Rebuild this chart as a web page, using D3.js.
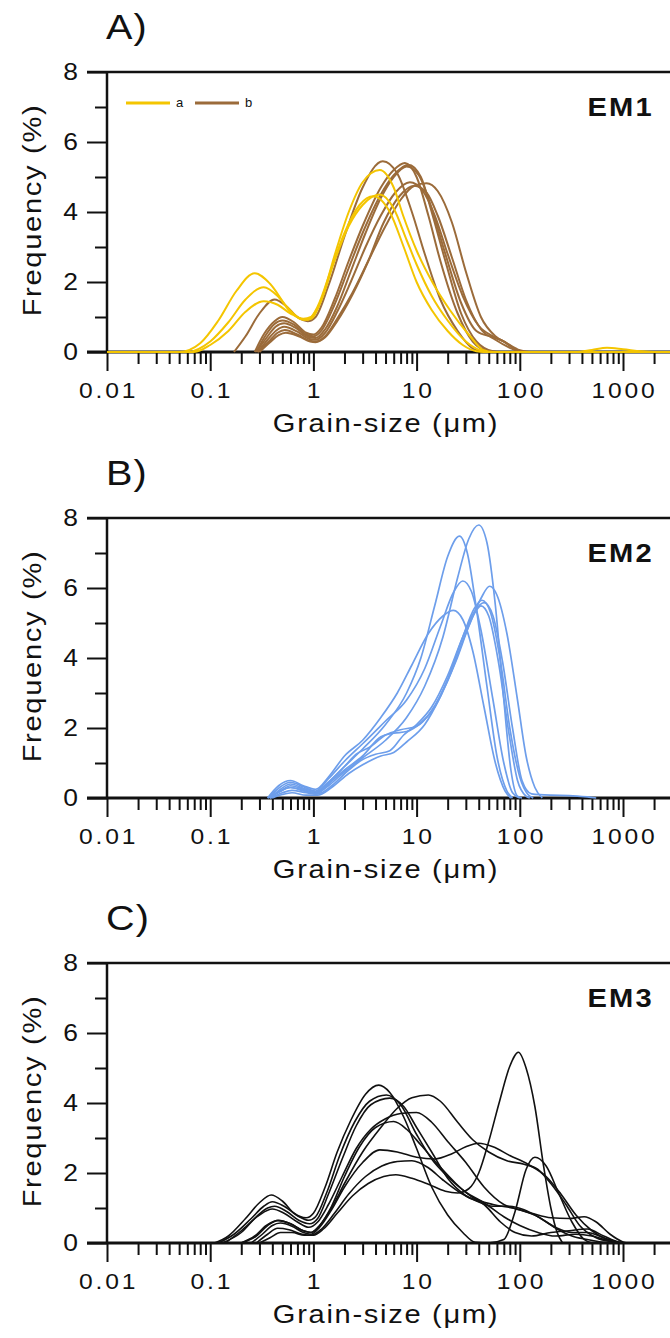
<!DOCTYPE html>
<html><head><meta charset="utf-8">
<script src="https://cdn.jsdelivr.net/npm/d3@7"></script>
<style>
body{margin:0;background:#fff}
svg{display:block}
text{font-family:"Liberation Sans",Arial,sans-serif;fill:#111}
</style>
</head><body>
<svg id="chart" width="670" height="1338"></svg>
<script>
// ---------- tick values / labels ----------
const xMajor = [0.01, 0.1, 1, 10, 100, 1000];
const xTickLabels = ["0.01", "0.1", "1", "10", "100", "1000"];
const yMajor = [0, 2, 4, 6, 8];
const yMinor = [1, 3, 5, 7];
const panelLetters = ["A)", "B)", "C)"];
const emLabels = ["EM1", "EM2", "EM3"];
const legendLabels = ["a", "b"];

// ---------- EM1 : group a (yellow) ----------
const em1a1 = [[0.01,0],[0.05,0],[0.08,0.25],[0.12,0.9],[0.18,1.75],[0.27,2.25],[0.38,1.95],[0.55,1.3],[0.75,0.95],[0.88,0.92],[1.1,1.3],[1.5,2.4],[2,3.4],[2.8,4.2],[3.8,4.45],[5.5,4.0],[7.5,3.0],[10,2.0],[14,1.2],[20,0.6],[28,0.2],[38,0.02],[45,0],[3000,0]];
const em1a2 = [[0.01,0],[0.06,0],[0.1,0.3],[0.15,0.85],[0.22,1.5],[0.33,1.85],[0.45,1.6],[0.6,1.15],[0.8,0.92],[0.95,0.95],[1.2,1.5],[1.6,2.75],[2.2,4.0],[3,4.85],[4.4,5.2],[6,4.7],[7.4,3.9],[10,2.9],[14.5,1.95],[21,1.2],[33,0.45],[44,0.06],[55,0],[350,0],[500,0.06],[700,0.12],[1000,0.08],[1500,0.02],[2000,0],[3000,0]];
const em1a3 = [[0.01,0],[0.07,0],[0.1,0.2],[0.15,0.6],[0.22,1.15],[0.33,1.45],[0.45,1.35],[0.6,1.1],[0.8,0.95],[0.95,1.0],[1.2,1.5],[1.6,2.6],[2.2,3.6],[3,4.2],[4.4,4.5],[6,4.1],[8,3.2],[10,2.5],[14,1.6],[20,0.9],[30,0.3],[42,0.04],[50,0],[3000,0]];
// ---------- EM1 : group b (brown) ----------
const em1b1 = [[0.17,0],[0.22,0.45],[0.3,1.1],[0.42,1.5],[0.55,1.3],[0.7,1.0],[0.88,0.88],[1.05,1.0],[1.4,1.9],[2,3.3],[3,4.7],[4.7,5.45],[6.5,5.1],[9,4.0],[12,2.8],[17,1.5],[25,0.6],[35,0.1],[45,0]];
const em1b2 = [[0.27,0],[0.33,0.5],[0.42,0.88],[0.5,1.0],[0.65,0.85],[0.85,0.55],[1.0,0.5],[1.2,0.7],[1.6,1.5],[2.2,2.6],[3,3.6],[4.5,4.7],[6,5.2],[7.7,5.4],[10,5.0],[13,3.9],[17,2.6],[25,1.1],[35,0.3],[50,0.02],[60,0]];
const em1b3 = [[0.28,0],[0.34,0.45],[0.42,0.8],[0.5,0.9],[0.65,0.78],[0.85,0.5],[1.0,0.45],[1.2,0.62],[1.6,1.35],[2.2,2.4],[3,3.4],[4.5,4.5],[6,5.05],[8.3,5.35],[11,5.0],[14,4.0],[19,2.6],[27,1.1],[38,0.3],[55,0.02],[65,0]];
const em1b4 = [[0.28,0],[0.35,0.4],[0.43,0.72],[0.52,0.82],[0.68,0.68],[0.9,0.43],[1.05,0.4],[1.3,0.65],[1.7,1.3],[2.3,2.3],[3.2,3.4],[4.5,4.4],[6,5.0],[8,5.3],[10.5,5.05],[14,4.1],[19,2.8],[27,1.4],[38,0.6],[55,0.42],[70,0.3],[90,0.08],[105,0]];
const em1b5 = [[0.29,0],[0.36,0.35],[0.44,0.62],[0.52,0.72],[0.7,0.58],[0.9,0.38],[1.05,0.35],[1.3,0.55],[1.7,1.15],[2.3,2.0],[3.2,3.0],[4.5,3.9],[6.2,4.55],[8.6,4.85],[11.5,4.6],[15,3.9],[20,2.8],[28,1.6],[40,0.75],[55,0.45],[70,0.3],[95,0.05],[115,0]];
const em1b6 = [[0.29,0],[0.37,0.3],[0.45,0.55],[0.53,0.63],[0.7,0.5],[0.92,0.32],[1.05,0.3],[1.3,0.45],[1.7,0.95],[2.4,1.7],[3.4,2.6],[5,3.6],[7,4.35],[9.5,4.75],[12.5,4.82],[16,4.6],[22,3.7],[30,2.3],[42,1.0],[58,0.45],[75,0.25],[100,0.05],[125,0]];
const em1b7 = [[0.3,0],[0.38,0.28],[0.46,0.48],[0.54,0.55],[0.72,0.45],[0.93,0.3],[1.05,0.28],[1.3,0.42],[1.7,0.88],[2.4,1.65],[3.4,2.6],[4.8,3.7],[6.8,4.45],[9.5,4.75],[12.5,4.55],[16,3.9],[22,2.7],[30,1.5],[42,0.65],[58,0.35],[80,0.12],[100,0]];

// ---------- EM2 (blue) ----------
const em2c1 = [[0.36,0],[0.45,0.15],[0.6,0.3],[0.8,0.22],[1.05,0.12],[1.4,0.35],[2,0.75],[3,1.15],[5,1.65],[8,2.3],[12,3.2],[18,4.6],[25,6.3],[32,7.4],[40,7.8],[48,7.3],[58,5.5],[70,2.8],[82,0.8],[95,0.05],[105,0]];
const em2c2 = [[0.38,0],[0.48,0.2],[0.6,0.35],[0.8,0.25],[1.05,0.15],[1.4,0.45],[2,0.9],[3,1.4],[5,2.1],[8,3.0],[11,4.0],[15,5.5],[20,6.9],[26,7.48],[31,7.0],[38,5.4],[48,3.2],[60,1.2],[75,0.2],[85,0]];
const em2c3 = [[0.37,0],[0.47,0.3],[0.6,0.45],[0.8,0.32],[1.05,0.2],[1.4,0.55],[2,1.05],[3,1.55],[5,2.2],[8,2.8],[12,3.7],[17,4.9],[23,5.9],[28,6.2],[34,5.9],[42,4.8],[55,2.8],[70,1.0],[85,0.15],[100,0]];
const em2c4 = [[0.4,0],[0.5,0.1],[0.62,0.15],[0.85,0.08],[1.1,0.08],[1.5,0.3],[2.2,0.7],[3,0.95],[4.5,1.2],[6,1.3],[8,1.6],[12,2.1],[17,2.9],[24,3.9],[32,4.9],[42,5.7],[51,6.05],[60,5.8],[75,4.7],[95,2.8],[115,1.2],[140,0.3],[165,0]];
const em2c5 = [[0.38,0],[0.48,0.25],[0.6,0.4],[0.8,0.28],[1.05,0.18],[1.4,0.45],[2,0.9],[2.6,1.25],[3.5,1.45],[5,1.8],[7,1.95],[10,2.05],[14,2.5],[20,3.4],[28,4.6],[36,5.4],[43,5.65],[52,5.3],[65,3.9],[80,2.0],[100,0.6],[120,0.1],[135,0]];
const em2c6 = [[0.39,0],[0.5,0.15],[0.62,0.22],[0.85,0.15],[1.1,0.12],[1.5,0.35],[2.2,0.8],[3,1.1],[4,1.25],[5.5,1.35],[7.5,1.8],[10,2.1],[14,2.6],[20,3.5],[28,4.6],[36,5.3],[45,5.58],[55,5.2],[68,3.9],[85,2.0],[105,0.5],[130,0.12],[200,0.08],[300,0.07],[450,0.03],[550,0]];
const em2c7 = [[0.38,0],[0.48,0.2],[0.6,0.3],[0.8,0.2],[1.05,0.12],[1.4,0.4],[2,0.8],[3,1.2],[4.5,1.75],[6,1.85],[8,1.9],[11,2.15],[15,2.6],[21,3.5],[29,4.6],[36,5.25],[42,5.49],[50,5.2],[62,3.9],[78,1.9],[95,0.5],[115,0.05],[125,0]];
const em2c8 = [[0.36,0],[0.46,0.35],[0.6,0.5],[0.8,0.35],[1.05,0.25],[1.4,0.6],[2,1.2],[3,1.65],[4.5,2.3],[6.5,3.0],[9,3.8],[13,4.7],[18,5.2],[22.7,5.36],[28,5.1],[35,4.2],[45,2.6],[58,1.0],[72,0.2],[82,0]];

// ---------- EM3 (black) ----------
const em3k1 = [[0.11,0],[0.15,0.2],[0.22,0.7],[0.3,1.15],[0.39,1.37],[0.5,1.2],[0.65,0.85],[0.85,0.72],[1.0,0.85],[1.3,1.6],[1.7,2.6],[2.3,3.5],[3.2,4.25],[4.3,4.51],[5.5,4.3],[7.5,3.6],[10,2.7],[14,1.6],[20,0.8],[28,0.3],[37,0.02],[50,0.0],[70,0.1],[90,0.9],[115,2.1],[140,2.45],[180,2.2],[240,1.4],[320,0.6],[420,0.1],[500,0]];
const em3k2 = [[0.12,0],[0.17,0.25],[0.25,0.7],[0.33,1.05],[0.4,1.18],[0.52,1.05],[0.7,0.78],[0.9,0.65],[1.05,0.75],[1.35,1.45],[1.8,2.5],[2.5,3.45],[3.5,4.05],[5.1,4.23],[7,3.95],[10,3.1],[14,2.4],[20,1.9],[30,1.45],[45,1.15],[70,0.75],[100,0.5],[150,0.3],[220,0.2],[350,0.25],[500,0.2],[700,0.08],[950,0]];
const em3k3 = [[0.13,0],[0.2,0.3],[0.28,0.75],[0.36,1.0],[0.42,1.05],[0.55,0.9],[0.72,0.65],[0.92,0.55],[1.1,0.7],[1.4,1.4],[1.9,2.4],[2.6,3.35],[3.6,3.95],[5.5,4.14],[7.5,3.9],[10,3.3],[14,2.6],[20,1.85],[30,1.35],[45,1.1],[65,0.6],[90,0.3],[130,0.2],[200,0.3],[300,0.35],[450,0.4],[650,0.2],[900,0.03],[1050,0]];
const em3k4 = [[0.2,0],[0.28,0.2],[0.36,0.5],[0.46,0.65],[0.6,0.55],[0.8,0.35],[0.95,0.3],[1.15,0.5],[1.5,1.0],[2,1.7],[3,2.6],[4.5,3.3],[6.5,3.85],[9,4.15],[13,4.23],[17,4.05],[25,3.45],[35,2.95],[50,2.6],[75,2.35],[110,2.25],[150,2.1],[200,1.7],[280,1.1],[380,0.5],[550,0.15],[800,0.03],[1000,0]];
const em3k5 = [[0.14,0],[0.2,0.35],[0.3,0.8],[0.4,0.97],[0.52,0.85],[0.7,0.6],[0.9,0.45],[1.1,0.6],[1.4,1.1],[1.9,1.9],[2.6,2.7],[3.6,3.25],[5,3.55],[7,3.7],[10,3.73],[14,3.45],[20,2.9],[30,2.3],[45,1.6],[70,1.1],[100,0.95],[150,0.75],[220,0.45],[320,0.3],[450,0.3],[650,0.15],[900,0.02],[1000,0]];
const em3k6 = [[0.2,0],[0.27,0.2],[0.35,0.5],[0.45,0.64],[0.6,0.55],[0.8,0.35],[0.95,0.3],[1.15,0.5],[1.5,1.05],[2,1.9],[2.8,2.75],[4,3.3],[6,3.47],[8,3.25],[11,2.8],[16,2.25],[24,1.7],[35,1.3],[55,1.1],[85,1.0],[130,0.85],[200,0.72],[300,0.7],[420,0.75],[550,0.6],[750,0.25],[1000,0.03],[1100,0]];
const em3k7 = [[0.25,0],[0.32,0.25],[0.4,0.5],[0.48,0.57],[0.62,0.48],[0.8,0.3],[0.95,0.25],[1.15,0.45],[1.5,0.95],[2,1.6],[3,2.3],[4.4,2.66],[6.5,2.6],[10,2.45],[15,2.4],[22,2.55],[30,2.75],[40,2.85],[55,2.75],[80,2.5],[120,2.25],[180,1.9],[250,1.4],[350,0.8],[500,0.35],[700,0.1],[950,0]];
const em3k8 = [[0.28,0],[0.36,0.25],[0.45,0.42],[0.58,0.38],[0.78,0.25],[0.95,0.22],[1.2,0.4],[1.6,0.85],[2.2,1.4],[3.2,1.9],[4.6,2.2],[6.5,2.33],[9,2.35],[13,2.15],[18,1.8],[26,1.45],[38,1.2],[55,1.05],[80,1.05],[110,0.95],[160,0.7],[230,0.4],[320,0.2],[450,0.1],[650,0.02],[800,0]];
const em3k9 = [[0.3,0],[0.38,0.15],[0.48,0.3],[0.62,0.3],[0.82,0.22],[1.0,0.22],[1.25,0.4],[1.7,0.85],[2.4,1.35],[3.4,1.7],[4.8,1.9],[6.3,1.95],[9,1.85],[13,1.68],[19,1.48],[25,1.43],[32,1.55],[40,2.0],[50,2.9],[63,4.0],[80,5.05],[97,5.45],[115,5.0],[140,3.9],[170,2.2],[200,1.0],[230,0.3],[260,0]];

const em1Brown = [em1b1, em1b2, em1b3, em1b4, em1b5, em1b6, em1b7];
const em1Yellow = [em1a1, em1a2, em1a3];
const em2Blue = [em2c1, em2c2, em2c3, em2c4, em2c5, em2c6, em2c7, em2c8];
const em3Black = [em3k1, em3k2, em3k3, em3k4, em3k5, em3k6, em3k7, em3k8, em3k9];

const COL_A = "#f4c500", COL_B = "#9b6b3a", COL_BLUE = "#6d9eeb", COL_K = "#111";

// ---------- drawing ----------
const svg = d3.select("#chart");
const X0 = 107, DEC = 103.2, XR = 670;
const SX = 1.12; // horizontal text stretch seen in the original
const x = d3.scaleLog().domain([0.01, 10000]).range([X0, X0 + 6 * DEC]);
const xMinor = [];
for (let e = -2; e <= 3; e++) for (let m = 2; m <= 9; m++) {
  const v = m * Math.pow(10, e);
  if (x(v) <= XR - 4) xMinor.push(v);
}

function panel(top, idx, groups, legend) {
  const zero = top + 280;
  const y = d3.scaleLinear().domain([0, 8]).range([zero, top]);
  const g = svg.append("g");

  g.append("text").attr("transform", `translate(${X0 - 1},${top - 33}) scale(1.1,1)`)
    .attr("font-size", 36).attr("letter-spacing", 1).text(panelLetters[idx]);

  // minor x ticks
  const xm = g.append("g").attr("transform", `translate(0,${zero})`)
    .call(d3.axisBottom(x).tickValues(xMinor).tickSize(12).tickFormat(""));
  xm.select(".domain").remove();
  xm.selectAll(".tick line").attr("stroke", "#111").attr("stroke-width", 2);
  // major x ticks
  const xg = g.append("g").attr("transform", `translate(0,${zero})`)
    .call(d3.axisBottom(x).tickValues(xMajor).tickSize(19).tickFormat((d, i) => xTickLabels[i]));
  xg.attr("font-size", null).attr("font-family", null);
  xg.select(".domain").remove();
  xg.selectAll(".tick line").attr("stroke", "#111").attr("stroke-width", 2);
  xg.selectAll(".tick text").attr("y", 46).attr("dy", null).attr("dx", 1)
    .attr("transform", `scale(${SX},1)`)
    .attr("font-size", 22).attr("letter-spacing", 2.5).attr("fill", "#111");

  // y ticks
  const ym = g.append("g").attr("transform", `translate(${X0},0)`)
    .call(d3.axisLeft(y).tickValues(yMinor).tickSize(12).tickFormat(""));
  ym.select(".domain").remove();
  ym.selectAll(".tick line").attr("stroke", "#111").attr("stroke-width", 2);
  const yg = g.append("g").attr("transform", `translate(${X0},0)`)
    .call(d3.axisLeft(y).tickValues(yMajor).tickSize(20).tickPadding(9).tickFormat(d3.format("d")));
  yg.attr("font-size", null).attr("font-family", null);
  yg.select(".domain").remove();
  yg.selectAll(".tick line").attr("stroke", "#111").attr("stroke-width", 2);
  yg.selectAll(".tick text").attr("font-size", 23).attr("fill", "#111")
    .attr("x", -29 / 1.15).attr("transform", "scale(1.15,1)");

  // frame lines
  g.append("line").attr("x1", X0 - 20).attr("x2", XR).attr("y1", top).attr("y2", top)
    .attr("stroke", "#111").attr("stroke-width", 2.5);
  g.append("line").attr("x1", X0).attr("x2", X0).attr("y1", top).attr("y2", zero)
    .attr("stroke", "#111").attr("stroke-width", 2.5);
  g.append("line").attr("x1", X0 - 20).attr("x2", XR).attr("y1", zero).attr("y2", zero)
    .attr("stroke", "#111").attr("stroke-width", 3);

  // axis titles
  g.append("text").attr("transform", `translate(41,${top + 138}) rotate(-90) scale(${SX},1)`)
    .attr("text-anchor", "middle").attr("font-size", 26).attr("letter-spacing", 1.5)
    .text("Frequency (%)");
  g.append("text").attr("transform", `translate(386,${zero + 80}) scale(${SX},1)`)
    .attr("text-anchor", "middle").attr("font-size", 26).attr("letter-spacing", 1.5)
    .text("Grain-size (μm)");

  g.append("text").attr("transform", `translate(654,${top + 44}) scale(${SX},1)`)
    .attr("text-anchor", "end")
    .attr("font-size", 26).attr("font-weight", "bold").attr("letter-spacing", 2)
    .text(emLabels[idx]);

  // curves
  const line = d3.line().x(d => x(d[0])).y(d => y(d[1])).curve(d3.curveMonotoneX);
  groups.forEach(gr => {
    g.append("g").selectAll("path").data(gr.series).join("path")
      .attr("d", line).attr("fill", "none").attr("stroke", gr.color)
      .attr("stroke-width", gr.width).attr("stroke-linejoin", "round");
  });

  if (legend) {
    const ly = top + 31;
    legend.forEach((it, i) => {
      const lx = 126 + i * 69;
      g.append("line").attr("x1", lx).attr("x2", lx + 44).attr("y1", ly).attr("y2", ly)
        .attr("stroke", it.color).attr("stroke-width", 3);
      g.append("text").attr("x", lx + 50).attr("y", ly + 4).attr("font-size", 13).text(it.label);
    });
  }
}

panel(72, 0, [
  { series: em1Brown, color: COL_B, width: 2 },
  { series: em1Yellow, color: COL_A, width: 2 }
], [{ label: legendLabels[0], color: COL_A }, { label: legendLabels[1], color: COL_B }]);
panel(518, 1, [{ series: em2Blue, color: COL_BLUE, width: 1.7 }], null);
panel(963, 2, [{ series: em3Black, color: COL_K, width: 1.6 }], null);
</script>
</body></html>
